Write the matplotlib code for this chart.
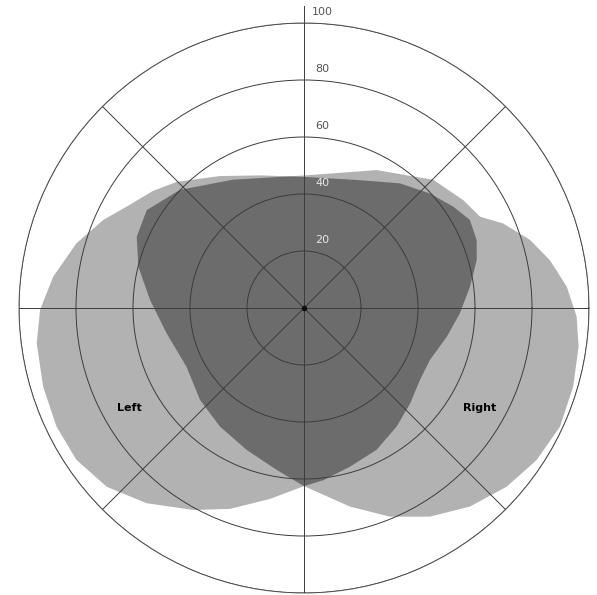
import numpy as np
import matplotlib
matplotlib.use("Agg")
import matplotlib.pyplot as plt
from matplotlib.transforms import offset_copy

# ---- data (polar: meridian angle in degrees, eccentricity) ----
left_eye_angle = [7.3, 15.5, 21.5, 28.0, 34.2, 42.3, 52.4, 67.6, 90, 107.9, 122.5,
                  135.3, 142.3, 149.7, 156.3, 164.1, 172.9, 180.4, 187.5, 196.8,
                  205.6, 213.7, 222.2, 231.1, 241.3, 249.8, 259.8, 270, 276.4,
                  286.1, 297.1, 308.0, 318.0, 328.1, 337.6, 348.6, 358.0]
left_eye_radius = [58.7, 62.9, 65.1, 65.9, 63.3, 59.7, 55.2, 48.6, 46.0, 48.9, 54.9,
                   62.9, 67.1, 71.3, 76.9, 83.0, 88.7, 92.6, 94.6, 95.6,
                   96.3, 96.0, 93.4, 88.0, 80.8, 75.1, 68.1, 62.5, 60.8,
                   58.0, 55.9, 52.8, 50.1, 47.9, 47.8, 51.1, 54.7]

right_eye_angle = [4.65, 11.0, 16.8, 23.0, 27.4, 34.1, 44.7, 62.2, 90, 119.1, 136.4,
                   148.1, 156.9, 166.0, 177.0, 190.5, 206.6, 221.5, 234.7, 248.0,
                   260.4, 270, 283.0, 292.4, 301.1, 309.9, 318.6, 326.8, 335.1,
                   343.7, 352.0, 358.2]
right_eye_radius = [92.5, 87.9, 82.8, 75.9, 69.6, 67.5, 63.9, 54.7, 46.5, 51.5, 60.1,
                    65.0, 63.8, 59.9, 54.1, 49.0, 46.1, 48.7, 51.0, 53.7,
                    57.6, 62.5, 71.5, 79.2, 85.5, 90.8, 94.8, 97.5, 99.0,
                    98.4, 97.3, 95.7]

ring_values = [20, 40, 60, 80, 100]
ring_labels = ["20", "40", "60", "80", "100"]
ring_label_colors = ["#e6e6e6", "#e6e6e6", "#555555", "#555555", "#555555"]

eye_labels = ["Left", "Right"]
eye_label_angle = [209.9, 330.4]
eye_label_radius = [70.5, 71.0]

LIGHT = "#b2b2b2"
DARK = "#6c6c6c"

fig = plt.figure(figsize=(5.97, 5.95), dpi=100)
ax = fig.add_axes([19 / 597, 2 / 595, 570 / 597, 570 / 595], projection="polar")
ax.set_ylim(0, 100)

lt = np.deg2rad(left_eye_angle)
rt = np.deg2rad(right_eye_angle)
ax.fill(lt, left_eye_radius, color=LIGHT, lw=0, zorder=1)
p_right = ax.fill(rt, right_eye_radius, color=LIGHT, lw=0, zorder=1)[0]
p_both = ax.fill(lt, left_eye_radius, color=DARK, lw=0, zorder=1.5)[0]
p_both.set_clip_path(p_right)

ax.set_rticks(ring_values)
ax.set_yticklabels([])
ax.set_thetagrids(np.arange(0, 360, 45), labels=[""] * 8)
ax.grid(True, color="#3c3c3c", lw=0.7)
ax.set_axisbelow(False)
ax.spines["polar"].set_color("#606060")
ax.spines["polar"].set_linewidth(0.7)

# vertical axis extends slightly beyond the outer ring at the top
ax.plot([np.pi / 2, np.pi / 2], [100, 106], color="#3c3c3c", lw=0.7, clip_on=False)
ax.plot([0], [0], "o", color="#111111", ms=3, zorder=5)

tr = offset_copy(ax.transData, fig=fig, x=18, y=11, units="dots")
for v, lab, c in zip(ring_values, ring_labels, ring_label_colors):
    ax.text(np.pi / 2, v, lab, transform=tr, ha="center", va="center",
            fontsize=8, color=c, zorder=6, clip_on=False)

for lab, a, r in zip(eye_labels, eye_label_angle, eye_label_radius):
    ax.text(np.deg2rad(a), r, lab, ha="center", va="center", fontsize=8,
            fontweight="bold", color="black", zorder=6)

fig.savefig("out.png", dpi=100)
